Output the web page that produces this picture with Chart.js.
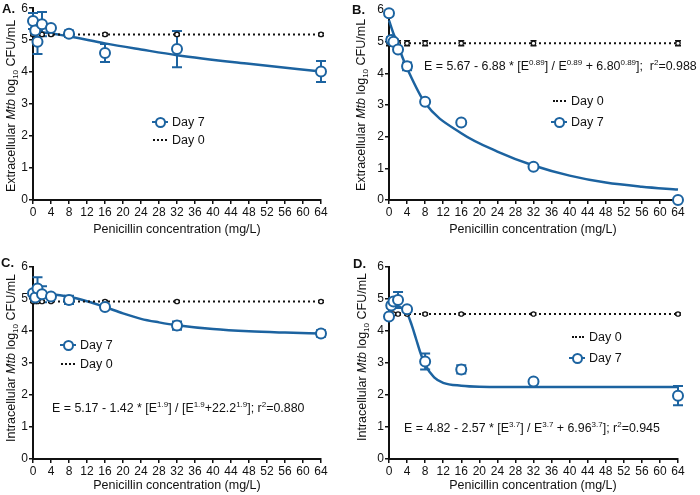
<!DOCTYPE html>
<html>
<head>
<meta charset="utf-8">
<script src="https://cdn.jsdelivr.net/npm/chart.js@4/dist/chart.umd.min.js"></script>
<style>
  html, body { margin:0; padding:0; background:#fff; }
  body { width:700px; height:495px; position:relative; overflow:hidden; font-family:"Liberation Sans", Arial, Helvetica, sans-serif; color:#111; }
  canvas { position:absolute; }
  .ytitle { position:absolute; white-space:nowrap; font-size:12.5px; transform:translate(-50%,-50%) rotate(-90deg); line-height:1; }
  .xtitle { position:absolute; white-space:nowrap; font-size:12.5px; transform:translate(-50%,-50%); line-height:1; }
  .plabel { position:absolute; font-weight:bold; font-size:13px; line-height:1; }
  .eq { position:absolute; white-space:nowrap; font-size:12.4px; transform:translateY(-50%); line-height:1; }
  sup { font-size:8px; vertical-align:5px; line-height:0; }
  sub { font-size:8px; vertical-align:-3px; line-height:0; }
  .leg { position:absolute; height:14px; transform:translateY(-50%); white-space:nowrap; font-size:12.5px; }
  .leg .ln { position:absolute; top:6px; height:0; }
  .leg .c { position:absolute; top:2px; width:7px; height:7px; border-radius:50%; border:2px solid #1c63a0; background:#fff; }
  .leg .tx { position:absolute; top:0; }
</style>
</head>
<body>
<canvas id="cA" width="335" height="245" style="left:0;top:0"></canvas>
<canvas id="cB" width="345" height="245" style="left:350px;top:0"></canvas>
<canvas id="cC" width="335" height="250" style="left:0;top:245px"></canvas>
<canvas id="cD" width="345" height="250" style="left:350px;top:245px"></canvas>

<div class="plabel" style="left:2px;top:2px">A.</div>
<div class="plabel" style="left:352px;top:3px">B.</div>
<div class="plabel" style="left:1px;top:256px">C.</div>
<div class="plabel" style="left:353px;top:257px">D.</div>

<div class="ytitle" style="left:11px;top:106px">Extracellular <i>Mtb</i> log<sub>10</sub> CFU/mL</div>
<div class="ytitle" style="left:361px;top:105px">Extracellular <i>Mtb</i> log<sub>10</sub> CFU/mL</div>
<div class="ytitle" style="left:11px;top:358px">Intracellular <i>Mtb</i> log<sub>10</sub> CFU/mL</div>
<div class="ytitle" style="left:362px;top:357px">Intracellular <i>Mtb</i> log<sub>10</sub> CFU/mL</div>

<div class="xtitle" style="left:177px;top:229px">Penicillin concentration (mg/L)</div>
<div class="xtitle" style="left:533px;top:229px">Penicillin concentration (mg/L)</div>
<div class="xtitle" style="left:177px;top:485px">Penicillin concentration (mg/L)</div>
<div class="xtitle" style="left:533px;top:485px">Penicillin concentration (mg/L)</div>

<div class="eq" style="left:424px;top:66px">E = 5.67 - 6.88 * [E<sup>0.89</sup>] / E<sup>0.89</sup> + 6.80<sup>0.89</sup>];&nbsp; r<sup>2</sup>=0.988</div>
<div class="eq" style="left:52px;top:408px">E = 5.17 - 1.42 * [E<sup>1.9</sup>] / [E<sup>1.9</sup>+22.2<sup>1.9</sup>]; r<sup>2</sup>=0.880</div>
<div class="eq" style="left:404px;top:428px">E = 4.82 - 2.57 * [E<sup>3.7</sup>] / E<sup>3.7</sup> + 6.96<sup>3.7</sup>]; r<sup>2</sup>=0.945</div>

<!-- legends -->
<div class="leg" style="left:152px;top:122px"><div class="ln" style="left:0;width:16px;border-top:2.5px solid #1c63a0"></div><div class="c" style="left:3px"></div><div class="tx" style="left:20px">Day 7</div></div>
<div class="leg" style="left:153px;top:140px"><div class="ln" style="left:0;width:14px;border-top:2.5px dotted #111"></div><div class="tx" style="left:19px">Day 0</div></div>

<div class="leg" style="left:553px;top:101px"><div class="ln" style="left:0;width:13px;border-top:2.5px dotted #111"></div><div class="tx" style="left:18px">Day 0</div></div>
<div class="leg" style="left:551px;top:122px"><div class="ln" style="left:0;width:16px;border-top:2.5px solid #1c63a0"></div><div class="c" style="left:3px"></div><div class="tx" style="left:20px">Day 7</div></div>

<div class="leg" style="left:60px;top:345px"><div class="ln" style="left:0;width:16px;border-top:2.5px solid #1c63a0"></div><div class="c" style="left:3px"></div><div class="tx" style="left:20px">Day 7</div></div>
<div class="leg" style="left:61px;top:364px"><div class="ln" style="left:0;width:14px;border-top:2.5px dotted #111"></div><div class="tx" style="left:19px">Day 0</div></div>

<div class="leg" style="left:572px;top:337px"><div class="ln" style="left:0;width:12px;border-top:2.5px dotted #111"></div><div class="tx" style="left:17px">Day 0</div></div>
<div class="leg" style="left:569px;top:358px"><div class="ln" style="left:0;width:16px;border-top:2.5px solid #1c63a0"></div><div class="c" style="left:3px"></div><div class="tx" style="left:20px">Day 7</div></div>

<script>
// ---------- data ----------
const concentrations = [0, 0.5, 1, 2, 4, 8, 16, 32, 64];
const xTicks = [0, 4, 8, 12, 16, 20, 24, 28, 32, 36, 40, 44, 48, 52, 56, 60, 64];
const yTicks = [0, 1, 2, 3, 4, 5, 6];

// Panel A – extracellular
const day7A    = [5.60, 5.30, 4.95, 5.50, 5.38, 5.20, 4.60, 4.72, 4.02];
const day7A_sd = [0.25, 0.10, 0.38, 0.38, 0.05, 0.10, 0.28, 0.57, 0.33];
const day0A    = [5.18, 5.18, 5.18, 5.18, 5.18, 5.18, 5.18, 5.18, 5.18];
const day0A_sd = [0.04, 0.04, 0.04, 0.04, 0.04, 0.04, 0.04, 0.04, 0.04];
const fitA_x   = [0, 2, 4, 8, 16, 24, 32, 48, 64];
const fitA_y   = [5.28, 5.25, 5.21, 5.12, 4.90, 4.71, 4.53, 4.26, 4.02];

// Panel B – extracellular
const day7B    = [5.90, 5.05, 5.00, 4.75, 4.22, 3.10, 2.45, 1.05, 0.00];
const day7B_sd = [0.08, 0.10, 0.08, 0.05, 0.12, 0.00, 0.00, 0.00, 0.00];
const day0B    = [4.95, 4.95, 4.95, 4.95, 4.95, 4.95, 4.95, 4.95, 4.95];
const day0B_sd = [0.08, 0.08, 0.08, 0.08, 0.08, 0.08, 0.08, 0.08, 0.08];
const fitB_x   = [0, 1, 2, 3, 4, 8, 16, 24, 32, 40, 48, 56, 64];
const fitB_y   = [5.67, 5.25, 4.90, 4.50, 4.16, 3.06, 2.11, 1.53, 1.09, 0.77, 0.55, 0.42, 0.33];

// Panel C – intracellular
const day7C    = [5.18, 5.05, 5.33, 5.15, 5.08, 4.97, 4.75, 4.17, 3.92];
const day7C_sd = [0.05, 0.10, 0.35, 0.25, 0.05, 0.13, 0.07, 0.13, 0.10];
const day0C    = [4.92, 4.92, 4.92, 4.92, 4.92, 4.92, 4.92, 4.92, 4.92];
const day0C_sd = [0.03, 0.03, 0.03, 0.03, 0.03, 0.03, 0.03, 0.03, 0.03];
const fitC_x   = [0, 4, 8, 12, 16, 20, 24, 28, 32, 40, 48, 56, 64];
const fitC_y   = [5.17, 5.15, 5.07, 4.93, 4.75, 4.55, 4.38, 4.27, 4.18, 4.06, 3.99, 3.95, 3.92];

// Panel D – intracellular
const day7D    = [4.45, 4.80, 4.92, 4.97, 4.68, 3.05, 2.80, 2.42, 1.98];
const day7D_sd = [0.05, 0.08, 0.10, 0.25, 0.05, 0.25, 0.13, 0.05, 0.30];
const day0D    = [4.53, 4.53, 4.53, 4.53, 4.53, 4.53, 4.53, 4.53, 4.53];
const day0D_sd = [0.03, 0.03, 0.03, 0.03, 0.03, 0.03, 0.03, 0.03, 0.03];
const fitD_x   = [0, 2, 4, 5, 6, 7, 8, 10, 12, 16, 20, 32, 64];
const fitD_y   = [4.82, 4.78, 4.55, 4.20, 3.75, 3.30, 2.95, 2.55, 2.38, 2.29, 2.26, 2.25, 2.25];

// ---------- drawing ----------
const BLUE = '#1c63a0';
const FONT = "'Liberation Sans', Arial, Helvetica, sans-serif";

const errorBars = {
  id: 'errorBars',
  beforeDatasetsDraw(chart) {
    const ctx = chart.ctx, xs = chart.scales.x, ys = chart.scales.y;
    chart.data.datasets.forEach(ds => {
      if (!ds.errors) return;
      ctx.save();
      ctx.strokeStyle = ds.errColor;
      ctx.lineWidth = ds.errWidth;
      ds.data.forEach((p, i) => {
        const e = ds.errors[i];
        if (!e) return;
        const px = xs.getPixelForValue(p.x);
        const y1 = ys.getPixelForValue(p.y + e), y2 = ys.getPixelForValue(p.y - e);
        ctx.beginPath();
        ctx.moveTo(px, y1); ctx.lineTo(px, y2);
        ctx.moveTo(px - ds.capHalf, y1); ctx.lineTo(px + ds.capHalf, y1);
        ctx.moveTo(px - ds.capHalf, y2); ctx.lineTo(px + ds.capHalf, y2);
        ctx.stroke();
      });
      ctx.restore();
    });
  }
};

function pts(xs, ys) { return xs.map((x, i) => ({ x: x, y: ys[i] })); }

function makeChart(id, d7, d7sd, d0, d0sd, fx, fy, geo) {
  new Chart(document.getElementById(id), {
    type: 'scatter',
    data: {
      datasets: [
        { label: 'Day 7', data: pts(concentrations, d7), errors: d7sd, errColor: BLUE, errWidth: 2, capHalf: 5,
          showLine: false, pointRadius: 5, pointBorderWidth: 2, pointBorderColor: BLUE, pointBackgroundColor: '#fff', clip: false },
        { label: 'Day 0', data: pts(concentrations, d0), errors: d0sd, errColor: '#111', errWidth: 1.5, capHalf: 3,
          showLine: true, borderColor: '#111', borderWidth: 2, borderDash: [2, 3], pointRadius: 2.2, pointBorderWidth: 1.2,
          pointBorderColor: '#111', pointBackgroundColor: '#fff', clip: false },
        { label: 'fit', data: pts(fx, fy), showLine: true, borderColor: BLUE, borderWidth: 2.5, pointRadius: 0,
          cubicInterpolationMode: 'monotone', clip: false }
      ]
    },
    options: {
      responsive: false, animation: false, devicePixelRatio: 1,
      layout: { padding: { left: 0, top: geo.top, right: geo.right, bottom: 0 } },
      plugins: { legend: { display: false }, tooltip: { enabled: false } },
      scales: {
        x: {
          type: 'linear', min: 0, max: 64,
          afterBuildTicks: s => { s.ticks = xTicks.map(v => ({ value: v })); },
          afterFit: s => { s.height = geo.xh; },
          ticks: { color: '#111', font: { family: FONT, size: 12 }, padding: 1, maxRotation: 0, autoSkip: false },
          grid: { drawOnChartArea: false, drawTicks: true, tickLength: 4, color: '#111', lineWidth: 1.5 },
          border: { display: true, color: '#111', width: 2 }
        },
        y: {
          type: 'linear', min: 0, max: 6,
          afterBuildTicks: s => { s.ticks = yTicks.map(v => ({ value: v })); },
          afterFit: s => { s.width = geo.yw; },
          ticks: { color: '#111', font: { family: FONT, size: 12 }, padding: 1 },
          grid: { drawOnChartArea: false, drawTicks: true, tickLength: 4, color: '#111', lineWidth: 1.5 },
          border: { display: true, color: '#111', width: 2 }
        }
      }
    },
    plugins: [errorBars]
  });
}

makeChart('cA', day7A, day7A_sd, day0A, day0A_sd, fitA_x, fitA_y, { top: 7,  right: 14, xh: 45, yw: 33 });
makeChart('cB', day7B, day7B_sd, day0B, day0B_sd, fitB_x, fitB_y, { top: 10, right: 17, xh: 45, yw: 39 });
makeChart('cC', day7C, day7C_sd, day0C, day0C_sd, fitC_x, fitC_y, { top: 22, right: 14, xh: 36, yw: 33 });
makeChart('cD', day7D, day7D_sd, day0D, day0D_sd, fitD_x, fitD_y, { top: 22, right: 17, xh: 36, yw: 39 });
</script>
</body>
</html>
